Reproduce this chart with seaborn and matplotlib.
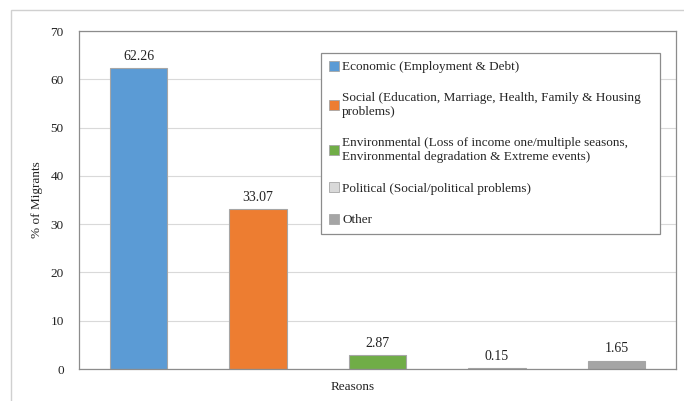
import matplotlib
matplotlib.use("Agg")
import matplotlib.pyplot as plt
import matplotlib.patches as mpatches
import seaborn as sns
import pandas as pd

categories = [
    "Economic (Employment & Debt)",
    "Social (Education, Marriage, Health, Family & Housing\nproblems)",
    "Environmental (Loss of income one/multiple seasons,\nEnvironmental degradation & Extreme events)",
    "Political (Social/political problems)",
    "Other",
]
values = [62.26, 33.07, 2.87, 0.15, 1.65]
colors = ["#5B9BD5", "#ED7D31", "#70AD47", "#D9D9D9", "#A5A5A5"]
yticks = [0, 10, 20, 30, 40, 50, 60, 70]

sns.set_theme(style="white")
plt.rcParams["font.family"] = ["Liberation Serif", "DejaVu Serif"]
plt.rcParams["font.size"] = 9

df = pd.DataFrame({"Reason": categories, "Value": values})

fig = plt.figure(figsize=(6.84, 4.01), dpi=100)
fig.patch.set_facecolor("white")
# outer chart frame
fig.patches.append(mpatches.Rectangle((11 / 684, -0.05), 1.0, (401 - 10) / 401 + 0.05,
                                      transform=fig.transFigure, fill=False,
                                      edgecolor="#D0D0D0", linewidth=1.0))

ax = fig.add_axes([79 / 684, (401 - 369) / 401, (676 - 79) / 684, (369 - 31) / 401])
sns.barplot(data=df, x="Reason", y="Value", hue="Reason", palette=colors,
            saturation=1, dodge=False, width=0.48, edgecolor="#A6A6A6", linewidth=0.8,
            legend=False, ax=ax)

ax.set_ylim(0, 70)
ax.set_yticks(yticks)
ax.set_yticklabels([str(t) for t in yticks], fontsize=9.5, color="#222222")
ax.set_xticks([])
ax.tick_params(axis="y", length=0, pad=11)
ax.yaxis.grid(True, color="#D9D9D9", linewidth=0.8)
ax.set_axisbelow(True)
for s in ax.spines.values():
    s.set_color("#8C8C8C")
    s.set_linewidth(0.9)

ax.set_ylabel("% of Migrants", fontsize=9.5, color="#222222", labelpad=5)
ax.set_xlabel("Reasons", fontsize=9.5, color="#222222")
ax.xaxis.set_label_coords(0.459, -0.035)

for container in ax.containers:
    ax.bar_label(container, fmt="%.2f", padding=4, fontsize=10, color="#222222")

handles = [mpatches.Patch(facecolor=c, edgecolor="#A6A6A6", linewidth=0.6) for c in colors]
leg = ax.legend(handles, categories, loc="upper left", mode="expand",
                bbox_to_anchor=(321 / 684, (401 - 53) / 401, 339 / 684, 0),
                bbox_transform=fig.transFigure,
                frameon=True, fancybox=False, framealpha=1, fontsize=9.5, labelspacing=1.45,
                handlelength=0.75, handleheight=0.75, handletextpad=0.25,
                borderpad=0.6, borderaxespad=0)
leg.get_frame().set_edgecolor("#8C8C8C")
leg.get_frame().set_linewidth(0.9)

fig.savefig("out.png", dpi=100)
